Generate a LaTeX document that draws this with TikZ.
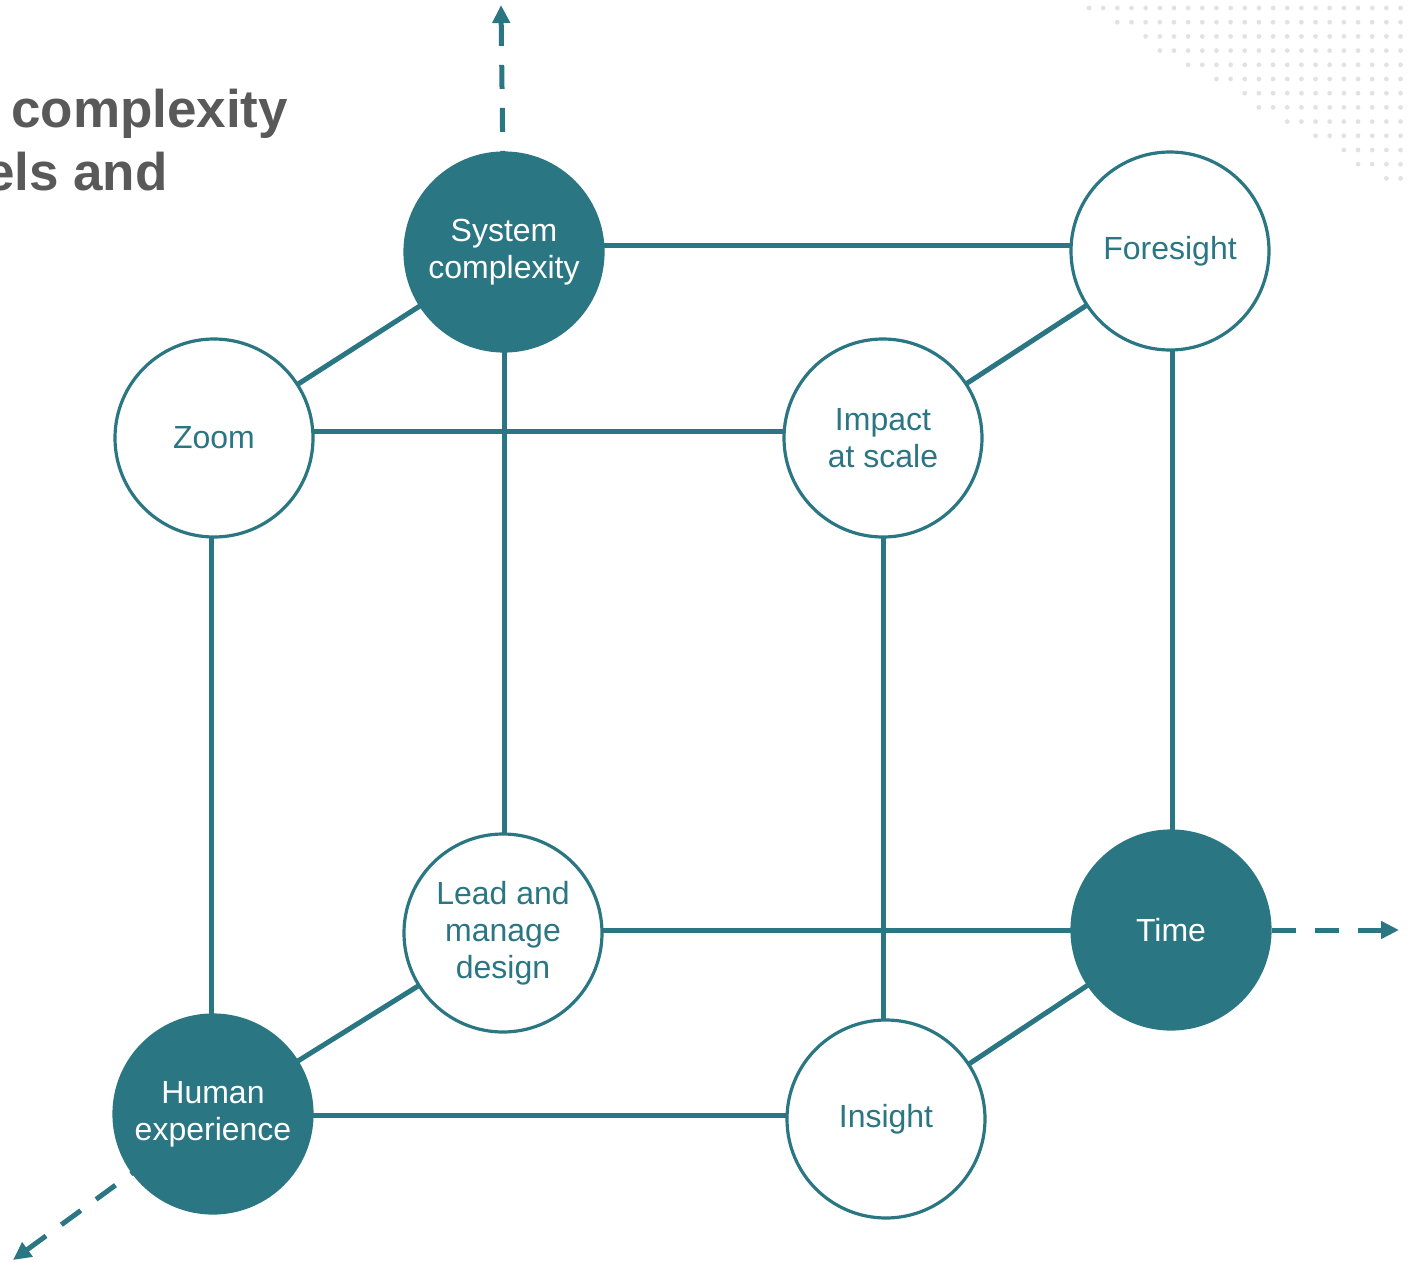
\documentclass[tikz,border=0pt]{standalone}
\usepackage{fontspec}
\setmainfont{Liberation Sans}
\usetikzlibrary{arrows.meta,backgrounds}
\definecolor{myteal}{HTML}{2B7683}
\definecolor{titlegray}{HTML}{595959}
\definecolor{dotgray}{HTML}{E2E2E2}
\begin{document}
\begin{tikzpicture}[x=1pt,y=-1pt,
  hub/.style={circle, minimum size=198pt, inner sep=0pt, line width=3.2pt, draw=myteal, align=center, font=\fontsize{32}{37}\selectfont},
  openhub/.style={hub, fill=white, text=myteal},
  solidhub/.style={hub, fill=myteal, text=white},
  link/.style={line width=5pt, draw=myteal},
  axisarrow/.style={line width=5pt, draw=myteal, dash pattern=on 24pt off 19pt, {Triangle[width=17pt,length=18pt]}-},
  titletext/.style={inner sep=0pt, text=titlegray, font=\fontsize{53}{63}\selectfont\bfseries}
]
\useasboundingbox (0,0) rectangle (1409,1263);

% dotted texture, top right
\foreach \i in {0,...,12} {
  \pgfmathtruncatemacro{\s}{round(1.75*\i)}
  \foreach \j in {\s,...,22} {
    \fill[dotgray] ({1089+14.16*\j},{8+14.2*\i}) circle (2.4pt);
  }
}

% clipped title
\begin{scope}
  \clip (0,0) rectangle (1409,1263);
  \node[titletext, anchor=base west] (t1) at (11,127) {complexity};
  \node[titletext, anchor=base east] (t2) at (168,190) {els and};
\end{scope}

% nodes
\node[solidhub] (sc) at (504,252) {System\\complexity};
\node[openhub]  (fo) at (1170,251) {Foresight};
\node[openhub]  (zm) at (214,438) {Zoom};
\node[openhub]  (im) at (883,438) {Impact\\at scale};
\node[openhub]  (ld) at (503,933) {Lead and\\manage\\design};
\node[solidhub] (tm) at (1171,930) {Time};
\node[solidhub] (hx) at (213,1114) {Human\\experience};
\node[openhub]  (in) at (886,1119) {Insight};

\coordinate (upTip) at (501,5);
\coordinate (rightTip) at (1399,930);
\coordinate (dlTip) at (13,1260);

\begin{scope}[on background layer]
  % horizontal edges
  \draw[link] ([yshift=7pt]sc.center) -- ([yshift=6pt]fo.center);
  \draw[link] ([yshift=7pt]zm.center) -- ([yshift=7pt]im.center);
  \draw[link] ([yshift=3pt]ld.center) -- (tm.center);
  \draw[link] ([yshift=-1pt]hx.center) -- ([yshift=4pt]in.center);
  % vertical edges
  \draw[link] ([xshift=-3pt]zm.center) -- ([xshift=-2pt]hx.center);
  \draw[link] (sc.center) -- ([xshift=1pt]ld.center);
  \draw[link] (im.center) -- ([xshift=-3pt]in.center);
  \draw[link] ([xshift=2pt]fo.center) -- ([xshift=1pt]tm.center);
  % diagonal edges
  \draw[link] (zm.center) -- (sc.center);
  \draw[link] (im.center) -- (fo.center);
  \draw[link] (hx.center) -- (ld.center);
  \draw[link] (in.center) -- (tm.center);
  % axes
  \draw[axisarrow] (upTip) -- (sc.center);
  \draw[axisarrow] (rightTip) -- (tm.center);
  \draw[axisarrow] (dlTip) -- (hx.center);
\end{scope}
\end{tikzpicture}
\end{document}
